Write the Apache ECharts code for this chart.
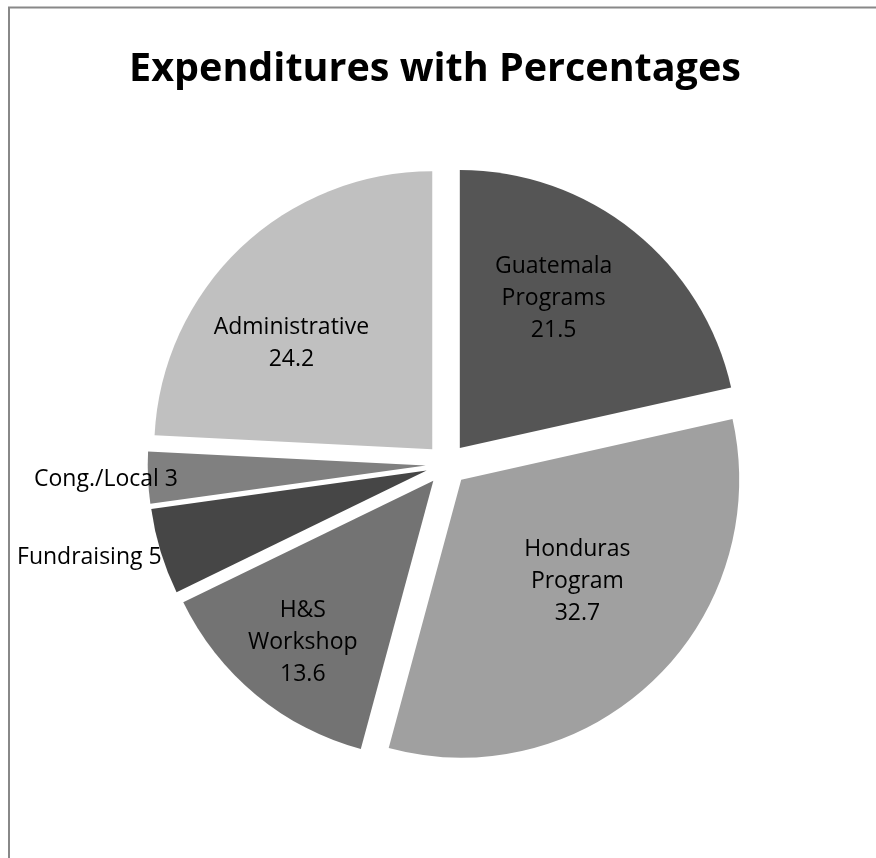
<!DOCTYPE html>
<html>
<head>
<meta charset="utf-8">
<script src="https://cdn.jsdelivr.net/npm/echarts@6/dist/echarts.min.js"></script>
<style>
  html, body { margin: 0; padding: 0; background: #fff; }
  #chart { width: 876px; height: 858px; }
</style>
</head>
<body>
<div id="chart"></div>
<script>
// ---- data ----
const categories = ['Guatemala\nPrograms', 'Honduras\nProgram', 'H&S\nWorkshop', 'Fundraising', 'Cong./Local', 'Administrative'];
const values = [21.5, 32.7, 13.6, 5, 3, 24.2];
const titleText = 'Expenditures with Percentages';

// ---- styles ----
const sliceColors = ['#555555', '#a0a0a0', '#737373', '#464646', '#808080', '#c0c0c0'];
const insideLabel = [true, true, true, false, false, true];
const labelShift = [[5, -39], [18, -1], [-40, 52], [6, 6], [35, 2], [-43, -3]];

const chart = echarts.init(document.getElementById('chart'), null, { renderer: 'canvas' });

const data = categories.map((name, i) => ({
  name: name,
  value: values[i],
  selected: true,
  itemStyle: { color: sliceColors[i] },
  label: insideLabel[i]
    ? { position: 'inner', formatter: '{b}\n{c}', align: 'center' }
    : { position: 'outside', formatter: '{b} {c}' },
  labelLine: { show: false, length: 0, length2: 0 }
}));

chart.setOption({
  animation: false,
  backgroundColor: '#ffffff',
  title: {
    text: titleText,
    left: 430,
    top: 45,
    textAlign: 'center',
    textStyle: {
      fontFamily: 'Open Sans',
      fontWeight: 'bold',
      fontSize: 39.5,
      color: '#000000'
    }
  },
  graphic: [{
    type: 'rect',
    silent: true,
    shape: { x: 9, y: 7.5, width: 900, height: 900 },
    style: { fill: 'none', stroke: '#888888', lineWidth: 2 }
  }],
  series: [{
    type: 'pie',
    center: [446.7, 464.5],
    radius: [0, 278],
    startAngle: 90,
    clockwise: true,
    selectedMode: 'multiple',
    selectedOffset: 21,
    avoidLabelOverlap: false,
    silent: true,
    emphasis: { disabled: true },
    itemStyle: { borderWidth: 0 },
    label: {
      show: true,
      fontFamily: 'Open Sans',
      fontSize: 23,
      lineHeight: 32,
      color: '#000000'
    },
    labelLine: { show: false },
    labelLayout: function (params) {
      const s = labelShift[params.dataIndex];
      return { dx: s[0], dy: s[1] };
    },
    data: data
  }]
});
</script>
</body>
</html>
